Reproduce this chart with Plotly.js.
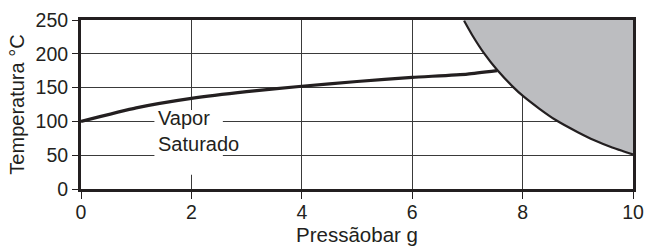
<!DOCTYPE html>
<html><head><meta charset="utf-8">
<script src="https://cdn.plot.ly/plotly-3.0.1.min.js"></script>
<style>html,body{margin:0;padding:0;background:#fff}#chart{width:645px;height:247px}</style>
</head><body><div id="chart"></div>
<script>
// Saturated steam curve (pressure bar g -> temperature °C)
const steamP = [0, 1, 2, 3, 4, 5, 6, 7, 7.54];
const steamT = [100, 120, 134, 144, 152, 159, 165, 170, 175];
// Superheat boundary (shaded region edge)
const boundP = [6.94, 7.1, 7.3, 7.54, 7.84, 8.0, 8.3, 8.6, 9.0, 9.3, 9.6, 10];
const boundT = [249, 226, 201, 176, 150, 138, 119, 102, 84, 72, 62, 51];
const labelText = 'Vapor<br>Saturado';
const xTitle = 'Pressãobar g';
const yTitle = 'Temperatura °C';

const font = {family: 'Liberation Sans, Arial, sans-serif', color: '#231f20'};
const fs = 19.5;
const fillX = boundP.concat([10, 6.9]);
const fillY = boundT.concat([250, 250]);

Plotly.newPlot('chart', [
  {x: fillX, y: fillY, mode: 'lines', fill: 'toself', fillcolor: '#bcbdc0',
   line: {width: 0, color: 'rgba(0,0,0,0)', shape: 'spline', smoothing: 0.6}, hoverinfo: 'skip', showlegend: false},
  {x: boundP, y: boundT, mode: 'lines', line: {color: '#231f20', width: 2.2, shape: 'spline', smoothing: 0.6}, showlegend: false},
  {x: steamP, y: steamT, mode: 'lines', line: {color: '#231f20', width: 3.2, shape: 'spline', smoothing: 0.5}, showlegend: false}
], {
  width: 645, height: 247,
  margin: {l: 81, r: 12, t: 20, b: 58},
  paper_bgcolor: '#fff', plot_bgcolor: '#fff',
  font: Object.assign({size: fs}, font),
  xaxis: {range: [0, 10], dtick: 2, tick0: 0, showgrid: true, gridcolor: '#3a3a3a', gridwidth: 1,
    showline: true, linecolor: '#231f20', linewidth: 3, mirror: true, zeroline: false,
    ticks: 'outside', ticklen: 7, tickwidth: 1, tickcolor: '#231f20', ticklabelstandoff: -3,
    tickfont: Object.assign({size: fs}, font),
    title: {text: xTitle, font: Object.assign({size: 20.5}, font), standoff: 0}},
  yaxis: {range: [0, 250], dtick: 50, tick0: 0, showgrid: true, gridcolor: '#3a3a3a', gridwidth: 1,
    showline: true, linecolor: '#231f20', linewidth: 3, mirror: true, zeroline: false,
    ticks: 'outside', ticklen: 6, tickwidth: 1, tickcolor: '#231f20',
    tickfont: Object.assign({size: fs}, font),
    title: {text: yTitle, font: Object.assign({size: 20}, font), standoff: 6}},
  shapes: [{type: 'rect', xref: 'x', yref: 'y', x0: 1.33, x1: 2.57, y0: 21, y1: 117,
    layer: 'between', fillcolor: '#fff', line: {width: 0}}],
  annotations: [{x: 1.36, y: 86, xref: 'x', yref: 'y', text: labelText, showarrow: false,
    xanchor: 'left', yanchor: 'middle', align: 'left',
    font: Object.assign({size: 20}, font)}]
}, {staticPlot: true});
</script></body></html>
